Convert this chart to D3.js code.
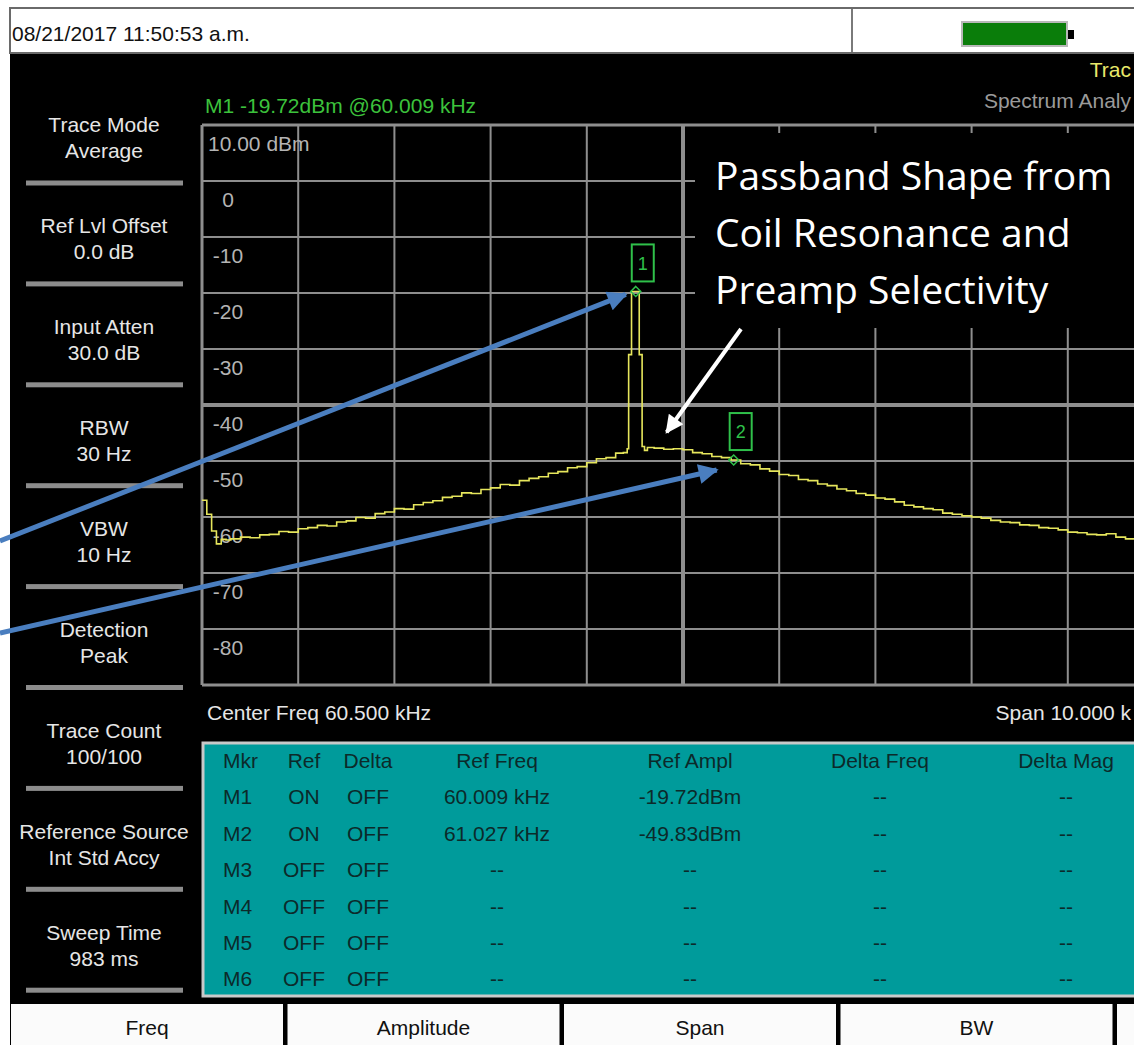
<!DOCTYPE html>
<html>
<head>
<meta charset="utf-8">
<script src="https://cdn.jsdelivr.net/npm/d3@7"></script>
<style>
  body { margin: 0; background: #fff; }
  svg text { font-family: "Liberation Sans", Arial, sans-serif; }
  svg text.annot { font-family: "Open Sans", "DejaVu Sans", sans-serif; }
</style>
</head>
<body>
<div id="ecran"></div>
<script>
// ---------------- données ----------------
const dateTexte = "08/21/2017 11:50:53 a.m.";
const texteMarqueur = "M1 -19.72dBm @60.009 kHz";
const texteCentre = "Center Freq 60.500 kHz";
// textes coupés par le bord droit de la capture
const texteSpan = "Span 10.000 k";
const texteTrace = "Trac";
const texteMode = "Spectrum Analy";
const freqCentre = 60.5;   // kHz
const spanKHz = 10;        // kHz
const niveauRef = 10;      // dBm
const dbParDiv = 10;

const valeursY = [10, 0, -10, -20, -30, -40, -50, -60, -70, -80];
const etiquettesY = ["10.00 dBm", "0", "-10", "-20", "-30", "-40", "-50", "-60", "-70", "-80"];

const menuTitres = ["Trace Mode", "Ref Lvl Offset", "Input Atten", "RBW", "VBW", "Detection", "Trace Count", "Reference Source", "Sweep Time"];
const menuValeurs = ["Average", "0.0 dB", "30.0 dB", "30 Hz", "10 Hz", "Peak", "100/100", "Int Std Accy", "983 ms"];

const freqTrace = [55.50, 55.55, 55.60, 55.65, 55.70, 55.75, 55.80, 55.90, 56.00, 56.10,
  56.20, 56.30, 56.40, 56.50, 56.60, 56.70, 56.80, 56.90, 57.00, 57.10,
  57.20, 57.30, 57.40, 57.50, 57.60, 57.70, 57.80, 57.90, 58.00, 58.10,
  58.20, 58.30, 58.40, 58.50, 58.60, 58.70, 58.80, 58.90, 59.00, 59.10,
  59.20, 59.30, 59.40, 59.50, 59.60, 59.70, 59.80, 59.88, 59.92, 59.935,
  59.965, 60.045, 60.075, 60.10, 60.13, 60.20, 60.30, 60.40, 60.50, 60.60,
  60.70, 60.80, 60.90, 61.00, 61.10, 61.20, 61.30, 61.40, 61.50, 61.60,
  61.70, 61.80, 61.90, 62.00, 62.10, 62.20, 62.30, 62.40, 62.50, 62.60,
  62.70, 62.80, 62.90, 63.00, 63.10, 63.20, 63.30, 63.40, 63.50, 63.60,
  63.70, 63.80, 63.90, 64.00, 64.10, 64.20, 64.30, 64.40, 64.50, 64.60,
  64.70, 64.80, 64.90, 65.00, 65.10, 65.20, 65.30, 65.40, 65.50];
const niveauTrace = [-57.0, -59.5, -62.5, -64.8, -64.0, -64.1, -63.9, -63.6, -63.7, -63.2,
  -63.1, -62.6, -62.7, -62.1, -61.9, -61.5, -61.6, -60.9, -60.7, -60.1,
  -60.2, -59.4, -59.1, -58.5, -58.6, -57.8, -57.4, -57.1, -56.5, -56.3,
  -55.7, -55.8, -55.1, -54.8, -54.2, -54.3, -53.5, -53.1, -52.8, -52.2,
  -51.9, -51.2, -51.0, -50.3, -49.6, -49.4, -48.6, -48.5, -47.8, -31.0,
  -19.72, -31.0, -47.4, -48.1, -47.6, -47.7, -47.9, -47.8, -48.0, -48.5,
  -48.7, -49.2, -49.4, -49.83, -50.5, -50.7, -51.4, -51.8, -52.4, -52.6,
  -53.3, -53.5, -54.1, -54.4, -55.0, -55.3, -55.8, -56.1, -56.6, -56.8,
  -57.3, -57.9, -58.2, -58.5, -58.7, -59.3, -59.5, -59.8, -60.0, -60.2,
  -60.6, -60.9, -61.0, -61.4, -61.5, -61.9, -62.0, -62.3, -62.7, -62.8,
  -63.1, -63.2, -63.0, -63.6, -63.9, -63.8, -64.1, -64.3, -64.3];

const marqueurNoms = ["1", "2"];
const marqueurFreq = [60.009, 61.027];
const marqueurNiveau = [-19.72, -49.83];

const colonnes = ["Mkr", "Ref", "Delta", "Ref Freq", "Ref Ampl", "Delta Freq", "Delta Mag"];
const colMkr = ["M1", "M2", "M3", "M4", "M5", "M6"];
const colRef = ["ON", "ON", "OFF", "OFF", "OFF", "OFF"];
const colDelta = ["OFF", "OFF", "OFF", "OFF", "OFF", "OFF"];
const colRefFreq = ["60.009 kHz", "61.027 kHz", "--", "--", "--", "--"];
const colRefAmpl = ["-19.72dBm", "-49.83dBm", "--", "--", "--", "--"];
const colDeltaFreq = ["--", "--", "--", "--", "--", "--"];
const colDeltaMag = ["--", "--", "--", "--", "--", "--"];

const boutons = ["Freq", "Amplitude", "Span", "BW", ""];
const annotation = ["Passband Shape from", "Coil Resonance and", "Preamp Selectivity"];

// ---------------- dessin ----------------
const W = 1134, H = 1045;
const svg = d3.select("#ecran").append("svg")
    .attr("width", W)
    .attr("height", H);

// fond d'écran de l'instrument
svg.append("rect").attr("x", 10).attr("y", 53).attr("width", W - 10).attr("height", H - 53).attr("fill", "#000");

// barre du haut
svg.append("rect").attr("x", 10).attr("y", 8).attr("width", W - 8).attr("height", 45)
    .attr("fill", "#fff").attr("stroke", "#6a6a6a").attr("stroke-width", 2);
svg.append("line").attr("x1", 852).attr("x2", 852).attr("y1", 9).attr("y2", 52)
    .attr("stroke", "#7a7a7a").attr("stroke-width", 2);
svg.append("text").attr("x", 12).attr("y", 34).attr("dy", "0.35em")
    .attr("font-size", 21).attr("fill", "#111").text(dateTexte);
svg.append("rect").attr("x", 962).attr("y", 22).attr("width", 105).attr("height", 24)
    .attr("fill", "#0a7d0a").attr("stroke", "#b8b8b8").attr("stroke-width", 2);
svg.append("rect").attr("x", 1068).attr("y", 30).attr("width", 6).attr("height", 9).attr("fill", "#000");

svg.append("text").attr("x", 1131).attr("y", 70).attr("dy", "0.35em").attr("text-anchor", "end")
    .attr("font-size", 21).attr("fill", "#e8e86a").text(texteTrace);
svg.append("text").attr("x", 1131).attr("y", 101).attr("dy", "0.35em").attr("text-anchor", "end")
    .attr("font-size", 21).attr("fill", "#9a9a9a").text(texteMode);
svg.append("text").attr("x", 205).attr("y", 106).attr("dy", "0.35em")
    .attr("font-size", 21).attr("fill", "#3cc23c").text(texteMarqueur);

// menu de gauche
const menu = svg.append("g");
menuTitres.forEach((t, i) => {
    const ySep = 183 + i * 100.9;
    menu.append("text").attr("x", 104).attr("y", ySep - 58).attr("dy", "0.35em")
        .attr("text-anchor", "middle").attr("font-size", 21).attr("fill", "#e6e6e6").text(t);
    menu.append("text").attr("x", 104).attr("y", ySep - 32).attr("dy", "0.35em")
        .attr("text-anchor", "middle").attr("font-size", 21).attr("fill", "#e6e6e6").text(menuValeurs[i]);
    menu.append("rect").attr("x", 26).attr("y", ySep - 2.5).attr("width", 157).attr("height", 5)
        .attr("fill", "#8c8c8c");
});

// échelles
const x = d3.scaleLinear()
    .domain([freqCentre - spanKHz / 2, freqCentre + spanKHz / 2])
    .range([202, 1164]);
const y = d3.scaleLinear()
    .domain([niveauRef, niveauRef - 10 * dbParDiv])
    .range([125, 685]);

// grille
const grille = svg.append("g");
const pasX = d3.range(11).map(i => x.domain()[0] + i * spanKHz / 10);
const pasY = d3.range(11).map(i => niveauRef - i * dbParDiv);
grille.selectAll("line.v").data(pasX).enter().append("line")
    .attr("x1", d => x(d)).attr("x2", d => x(d))
    .attr("y1", y.range()[0]).attr("y2", y.range()[1])
    .attr("stroke", "#8e8e8e")
    .attr("stroke-width", (d, i) => (i === 5 ? 4 : (i === 0 ? 3 : 2)));
grille.selectAll("line.h").data(pasY).enter().append("line")
    .attr("x1", x.range()[0]).attr("x2", x.range()[1])
    .attr("y1", d => y(d)).attr("y2", d => y(d))
    .attr("stroke", "#8e8e8e")
    .attr("stroke-width", (d, i) => (i === 5 ? 4 : (i === 0 || i === 10 ? 3 : 2)));

// étiquettes de l'axe Y
svg.append("g").selectAll("text").data(valeursY).enter().append("text")
    .attr("x", (d, i) => (i === 0 ? 208 : 228))
    .attr("y", d => y(d) + 19).attr("dy", "0.35em")
    .attr("text-anchor", (d, i) => (i === 0 ? "start" : "middle"))
    .attr("font-size", 21).attr("fill", "#b4b4b4")
    .text((d, i) => etiquettesY[i]);

// cadre noir de l'annotation
svg.append("rect").attr("x", 695).attr("y", 133).attr("width", W - 695).attr("height", 195).attr("fill", "#000");

// trace
const ligne = d3.line()
    .x(d => x(d[0]))
    .y(d => y(d[1]))
    .curve(d3.curveStepAfter);
svg.append("path")
    .datum(freqTrace.map((f, i) => [f, niveauTrace[i]]))
    .attr("d", ligne)
    .attr("fill", "none")
    .attr("stroke", "#e6e65c")
    .attr("stroke-width", 1.6);

// marqueurs
const vert = "#2fc04a";
const marq = svg.append("g").selectAll("g").data(marqueurNoms).enter().append("g")
    .attr("transform", (d, i) => "translate(" + x(marqueurFreq[i]) + "," + y(marqueurNiveau[i]) + ")");
marq.append("path").attr("d", "M0,-5 L5,0 L0,5 L-5,0 Z")
    .attr("fill", "none").attr("stroke", vert).attr("stroke-width", 1.5);
marq.append("rect").attr("x", -4).attr("y", -47).attr("width", 22).attr("height", 37)
    .attr("fill", "none").attr("stroke", vert).attr("stroke-width", 2);
marq.append("text").attr("x", 7).attr("y", -28).attr("dy", "0.35em")
    .attr("text-anchor", "middle").attr("font-size", 18).attr("fill", vert).text(d => d);

// textes sous la grille
svg.append("text").attr("x", 207).attr("y", 713).attr("dy", "0.35em")
    .attr("font-size", 21).attr("fill", "#e6e6e6").text(texteCentre);
svg.append("text").attr("x", 1131).attr("y", 713).attr("dy", "0.35em").attr("text-anchor", "end")
    .attr("font-size", 21).attr("fill", "#e6e6e6").text(texteSpan);

// tableau des marqueurs
svg.append("rect").attr("x", 203).attr("y", 743).attr("width", W - 200).attr("height", 253)
    .attr("fill", "#009b9b").attr("stroke", "#c9c9c9").attr("stroke-width", 3);
const colX = [223, 304, 368, 497, 690, 880, 1066];
const colAncre = ["start", "middle", "middle", "middle", "middle", "middle", "middle"];
const colDonnees = [colMkr, colRef, colDelta, colRefFreq, colRefAmpl, colDeltaFreq, colDeltaMag];
const tableau = svg.append("g").attr("font-size", 21).attr("fill", "#0c2a2a");
colonnes.forEach((c, j) => {
    tableau.append("text").attr("x", colX[j]).attr("y", 761).attr("dy", "0.35em")
        .attr("text-anchor", colAncre[j]).text(c);
    colDonnees[j].forEach((v, i) => {
        tableau.append("text").attr("x", colX[j]).attr("y", 797 + i * 36.4).attr("dy", "0.35em")
            .attr("text-anchor", colAncre[j]).text(v);
    });
});

// boutons du bas
const bas = svg.append("g");
boutons.forEach((b, i) => {
    const x0 = 11 + i * 276.5;
    bas.append("rect").attr("x", x0).attr("y", 1004).attr("width", 272).attr("height", 45)
        .attr("fill", "#fbfbfb");
    bas.append("text").attr("x", x0 + 136).attr("y", 1028).attr("dy", "0.35em")
        .attr("text-anchor", "middle").attr("font-size", 21).attr("fill", "#111").text(b);
});

// annotation blanche
const annot = svg.append("g");
annotation.forEach((t, i) => {
    annot.append("text").attr("class", "annot").attr("x", 715).attr("y", 190 + i * 57)
        .attr("font-size", 39).attr("fill", "#fff").text(t);
});

const defs = svg.append("defs");
defs.append("marker").attr("id", "pointeBleue").attr("viewBox", "0 0 10 10")
    .attr("refX", 9).attr("refY", 5).attr("markerWidth", 5).attr("markerHeight", 4)
    .attr("orient", "auto").attr("markerUnits", "strokeWidth")
    .append("path").attr("d", "M0,0 L10,5 L0,10 Z").attr("fill", "#4a7ebf");
defs.append("marker").attr("id", "pointeBlanche").attr("viewBox", "0 0 10 10")
    .attr("refX", 9).attr("refY", 5).attr("markerWidth", 5).attr("markerHeight", 4.5)
    .attr("orient", "auto").attr("markerUnits", "strokeWidth")
    .append("path").attr("d", "M0,0 L10,5 L0,10 Z").attr("fill", "#fff");

// flèche blanche vers l'épaulement
svg.append("line").attr("x1", 741).attr("y1", 329)
    .attr("x2", x(60.33)).attr("y2", y(-47.9) - 17)
    .attr("stroke", "#fff").attr("stroke-width", 4).attr("marker-end", "url(#pointeBlanche)");

// flèches bleues vers les marqueurs
svg.append("line").attr("x1", 0).attr("y1", 541)
    .attr("x2", x(marqueurFreq[0]) - 10).attr("y2", y(marqueurNiveau[0]) + 3)
    .attr("stroke", "#4a7ebf").attr("stroke-width", 5).attr("marker-end", "url(#pointeBleue)");
svg.append("line").attr("x1", 0).attr("y1", 633)
    .attr("x2", x(marqueurFreq[1]) - 17).attr("y2", y(marqueurNiveau[1]) + 10)
    .attr("stroke", "#4a7ebf").attr("stroke-width", 5).attr("marker-end", "url(#pointeBleue)");
</script>
</body>
</html>
